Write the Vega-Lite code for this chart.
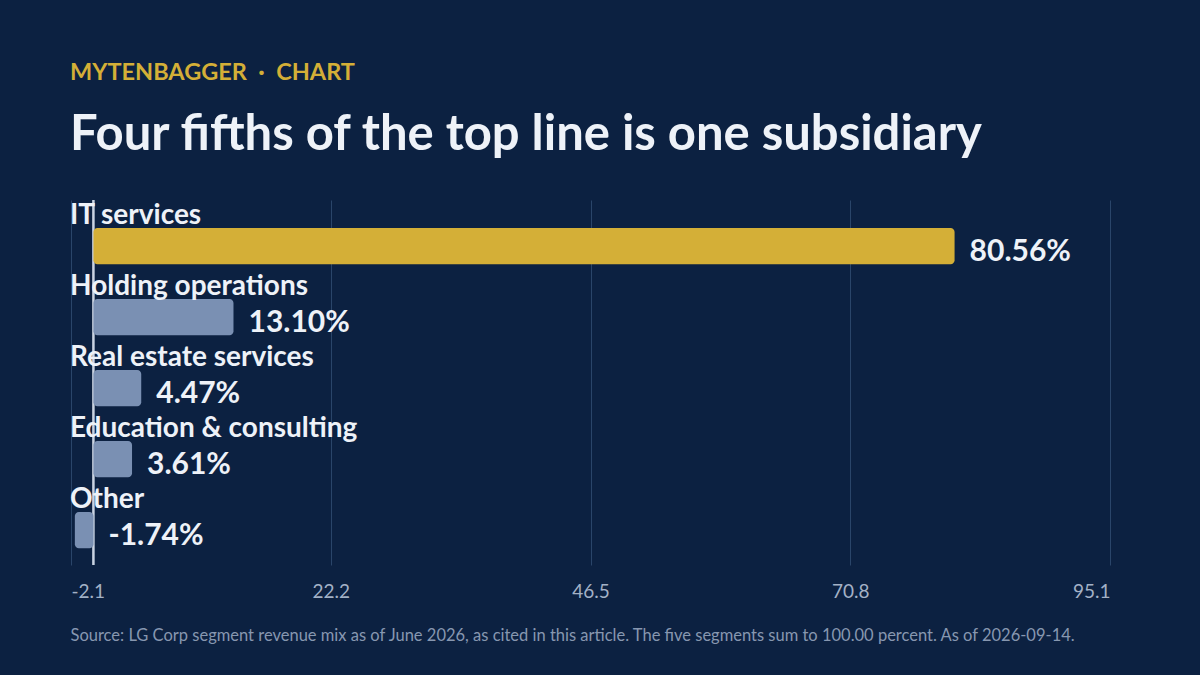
{
  "$schema": "https://vega.github.io/schema/vega-lite/v6.json",
  "width": 1039,
  "height": 365,
  "autosize": {"type": "none"},
  "padding": {"left": 71, "top": 200, "right": 90, "bottom": 110},
  "background": "#0c2141",
  "title": {
    "text": "MYTENBAGGER\u00a0\u00a0·\u00a0\u00a0CHART",
    "subtitle": "Four fifths of the top line is one subsidiary",
    "anchor": "start",
    "frame": "group",
    "dx": -1,
    "color": "#d4af37",
    "font": "Lato",
    "fontSize": 23.5,
    "fontWeight": "bold",
    "subtitleColor": "#eef2f8",
    "subtitleFont": "Lato",
    "subtitleFontSize": 49,
    "subtitleFontWeight": "bold",
    "subtitlePadding": 27,
    "offset": 39
  },
  "data": {
    "values": [
      {"segment": "IT services", "share": 80.56},
      {"segment": "Holding operations", "share": 13.10},
      {"segment": "Real estate services", "share": 4.47},
      {"segment": "Education & consulting", "share": 3.61},
      {"segment": "Other", "share": -1.74}
    ]
  },
  "transform": [
    {"calculate": "replace(format(datum.share, '.2f'), '\u2212', '-') + '%'", "as": "label"},
    {"calculate": "max(datum.share, 0)", "as": "label_pos"}
  ],
  "encoding": {
    "y": {
      "field": "segment",
      "type": "nominal",
      "sort": null,
      "axis": null,
      "scale": {"paddingInner": 0.49, "paddingOuter": 0.3155, "align": 0.625}
    }
  },
  "layer": [
    {
      "mark": {"type": "rule", "color": "#c9d3e2", "strokeWidth": 1.5},
      "encoding": {
        "x": {"datum": 0, "type": "quantitative"},
        "y": null
      }
    },
    {
      "mark": {"type": "bar", "cornerRadius": 4},
      "encoding": {
        "x": {
          "field": "share",
          "type": "quantitative",
          "scale": {"domain": [-2.1, 95.1], "nice": false, "zero": false},
          "axis": {
            "values": [-2.1, 22.2, 46.5, 70.8, 95.1],
            "labelExpr": "replace(format(datum.value, '.1f'), '\u2212', '-')",
            "grid": true,
            "gridColor": "#2a4569",
            "gridWidth": 1,
            "ticks": false,
            "domain": false,
            "labelColor": "#a3b1c6",
            "labelFont": "Lato",
            "labelFontSize": 19,
            "labelPadding": 17,
            "title": "Source: LG Corp segment revenue mix as of June 2026, as cited in this article. The five segments sum to 100.00 percent. As of 2026-09-14.",
            "titleColor": "#8797b0",
            "titleFont": "Lato",
            "titleFontSize": 16.5,
            "titleFontWeight": "normal",
            "titleAnchor": "start",
            "titleAlign": "left",
            "titleX": -1,
            "titlePadding": 26
          }
        },
        "x2": {"datum": 0},
        "color": {
          "condition": {"test": "datum.segment === 'IT services'", "value": "#d4af37"},
          "value": "#7a90b3"
        }
      }
    },
    {
      "mark": {
        "type": "text",
        "align": "left",
        "baseline": "alphabetic",
        "dx": -1,
        "dy": -22,
        "font": "Lato",
        "fontSize": 28,
        "fontWeight": "bold",
        "color": "#eef2f8"
      },
      "encoding": {
        "x": {"datum": -2.1, "type": "quantitative"},
        "text": {"field": "segment"}
      }
    },
    {
      "mark": {
        "type": "text",
        "align": "left",
        "baseline": "middle",
        "dx": 15,
        "dy": 6,
        "font": "Lato",
        "fontSize": 30,
        "fontWeight": "bold",
        "color": "#eef2f8"
      },
      "encoding": {
        "x": {"field": "label_pos", "type": "quantitative"},
        "text": {"field": "label"}
      }
    }
  ],
  "config": {
    "view": {"stroke": null}
  }
}
